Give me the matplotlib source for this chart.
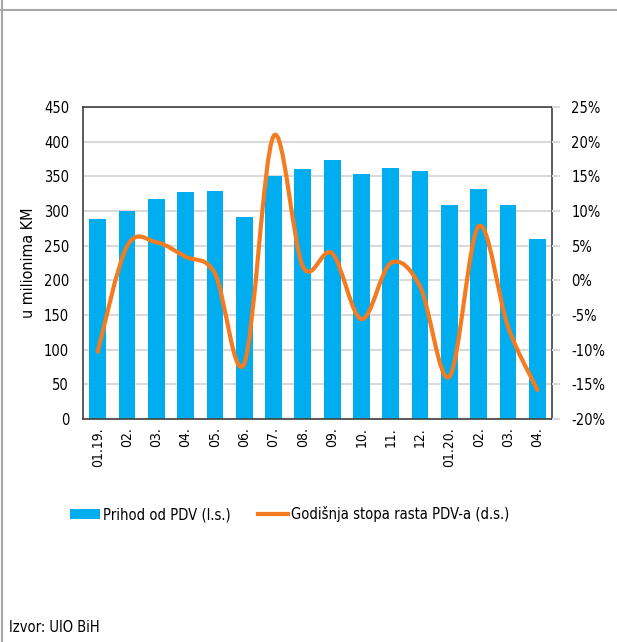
import matplotlib
matplotlib.use("Agg")
import matplotlib.pyplot as plt
import numpy as np
from matplotlib.lines import Line2D
from matplotlib.patches import PathPatch, Patch
from matplotlib.path import Path
from matplotlib import ticker

plt.rcParams["font.family"] = ["DejaVu Sans"]
plt.rcParams["font.stretch"] = "condensed"

months = ["01.19.", "02.", "03.", "04.", "05.", "06.", "07.", "08.",
          "09.", "10.", "11.", "12.", "01.20.", "02.", "03.", "04."]
# Prihod od PDV, u milionima KM (lijeva osa)
vat_revenue = [288, 300, 317, 328, 329, 291, 351, 360,
               374, 353, 362, 358, 308, 332, 308, 259]
# Godisnja stopa rasta PDV-a, % (desna osa)
growth_rate = [-10.3, 4.9, 5.5, 3.4, 1.0, -12.0, 20.8, 2.0,
               3.9, -5.6, 2.5, -0.9, -13.9, 7.8, -6.7, -15.8]

BAR_COLOR = "#00aeef"
LINE_COLOR = "#f47b20"
GRID_COLOR = "#d9d9d9"
SPINE_COLOR = "#404040"


def smooth_path(xs, ys):
    """Catmull-Rom curve through the points, as cubic Bezier segments."""
    pts = np.column_stack([xs, ys]).astype(float)
    ext = np.vstack([pts[0], pts, pts[-1]])
    verts = [tuple(pts[0])]
    codes = [Path.MOVETO]
    for i in range(1, len(ext) - 2):
        p0, p1, p2, p3 = ext[i - 1], ext[i], ext[i + 1], ext[i + 2]
        c1 = p1 + (p2 - p0) / 6.0
        c2 = p2 - (p3 - p1) / 6.0
        verts += [tuple(c1), tuple(c2), tuple(p2)]
        codes += [Path.CURVE4] * 3
    return Path(verts, codes)


fig = plt.figure(figsize=(6.17, 6.42), dpi=100)
ax = fig.add_axes([83 / 617, 1 - 419 / 642, 469 / 617, 312 / 642])

x = np.arange(len(months))
ax.bar(x, vat_revenue, width=0.57, color=BAR_COLOR, zorder=2)
ax.set_xlim(-0.5, len(months) - 0.5)
ax.set_ylim(0, 450)
ax.yaxis.set_major_locator(ticker.MultipleLocator(50))
ax.grid(axis="y", color=GRID_COLOR, linewidth=1.5, zorder=0)
ax.set_axisbelow(True)
ax.set_xticks(x)
ax.set_xticklabels(months, rotation=90, fontsize=10)
ax.tick_params(axis="x", length=0, pad=6)
ax.tick_params(axis="y", length=0, pad=10, labelsize=10.5)
ax.set_ylabel("u milionima KM", fontsize=11.5, labelpad=6)
for s in ax.spines.values():
    s.set_color(SPINE_COLOR)
    s.set_linewidth(1.2)

ax2 = ax.twinx()
ax2.set_ylim(-20, 25)
ax2.yaxis.set_major_locator(ticker.MultipleLocator(5))
ax2.yaxis.set_major_formatter(ticker.FuncFormatter(lambda v, p: f"{v:.0f}%"))
ax2.tick_params(axis="y", length=6, width=1.5, color=GRID_COLOR, pad=8,
                labelsize=10.5)
for s in ax2.spines.values():
    s.set_visible(False)
ax2.add_patch(PathPatch(smooth_path(x, growth_rate), facecolor="none",
                        edgecolor=LINE_COLOR, linewidth=3.0,
                        capstyle="round", joinstyle="round", zorder=3))

handles = [Patch(facecolor=BAR_COLOR, edgecolor="none"),
           Line2D([], [], color=LINE_COLOR, linewidth=3.0)]
labels = ["Prihod od PDV (l.s.)", "Godišnja stopa rasta PDV-a (d.s.)"]
fig.legend(handles, labels, loc="center left",
           bbox_to_anchor=(70 / 617, 1 - 514 / 642), borderaxespad=0,
           borderpad=0, ncol=2, frameon=False, fontsize=10.6,
           handlelength=2.05, handletextpad=0.2, columnspacing=1.85,
           handleheight=0.65)

fig.text(9 / 617, 1 - 632 / 642, "Izvor: UIO BiH", fontsize=10.5, va="baseline")

# frame lines of the page
fig.add_artist(Line2D([0, 1], [1 - 10 / 642] * 2, color="#a6a6a6", linewidth=1.5,
                      transform=fig.transFigure))
fig.add_artist(Line2D([1.5 / 617] * 2, [0, 1], color="#a6a6a6", linewidth=1.5,
                      transform=fig.transFigure))

fig.savefig("out.png", dpi=100)
